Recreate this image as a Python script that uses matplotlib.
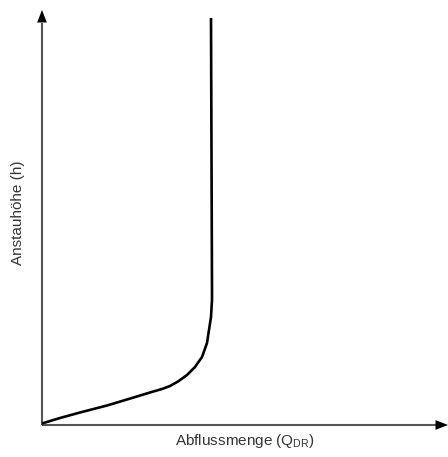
import matplotlib
matplotlib.use("Agg")
import matplotlib.pyplot as plt

# curve (x = discharge, y = water level), arbitrary units
flow = [0, 18, 38, 65, 85, 108, 120, 128, 136, 145, 153, 160, 165, 167, 169, 170, 170, 169]
level = [1.5, 7, 12.5, 19.5, 25.5, 32.5, 36, 39, 43.5, 50, 58, 68, 82, 95, 108, 125, 135, 407]

x_label = r"Abflussmenge (Q$_{\mathrm{DR}}$)"
y_label = "Anstauhöhe (h)"

plt.rcParams["font.family"] = ["Liberation Sans", "DejaVu Sans"]
plt.rcParams["mathtext.fontset"] = "custom"
plt.rcParams["mathtext.rm"] = "Liberation Sans"
plt.rcParams["mathtext.it"] = "Liberation Sans"

W, H = 448, 457
fig = plt.figure(figsize=(W / 100, H / 100), dpi=100)
ax = fig.add_axes([42 / W, 32 / H, 406 / W, 415 / H])
ax.set_xlim(0, 406)
ax.set_ylim(0, 415)
ax.axis("off")

# axes with arrow heads
axis_col = "#555555"
ax.plot([0, 396], [0, 0], color=axis_col, lw=1.5, solid_capstyle="butt", clip_on=False)
ax.plot([0, 0], [0, 402], color=axis_col, lw=1.5, solid_capstyle="butt", clip_on=False)
ax.annotate("", xy=(406, 0), xytext=(392, 0),
            arrowprops=dict(arrowstyle="-|>,head_length=0.9,head_width=0.35",
                            color="black", lw=0, shrinkA=0, shrinkB=0),
            annotation_clip=False)
ax.annotate("", xy=(0, 415), xytext=(0, 400),
            arrowprops=dict(arrowstyle="-|>,head_length=0.9,head_width=0.35",
                            color="black", lw=0, shrinkA=0, shrinkB=0),
            annotation_clip=False)

ax.plot(flow, level, color="black", lw=1.9, solid_capstyle="butt",
        solid_joinstyle="round", clip_on=False)

fig.text(245 / W, 1 - 441 / H, x_label, ha="center", va="center",
         fontsize=11, color="#333333")
fig.text(18 / W, 1 - 213 / H, y_label, ha="center", va="center",
         rotation=90, fontsize=11, color="#333333")

fig.savefig("out.png", dpi=100)
